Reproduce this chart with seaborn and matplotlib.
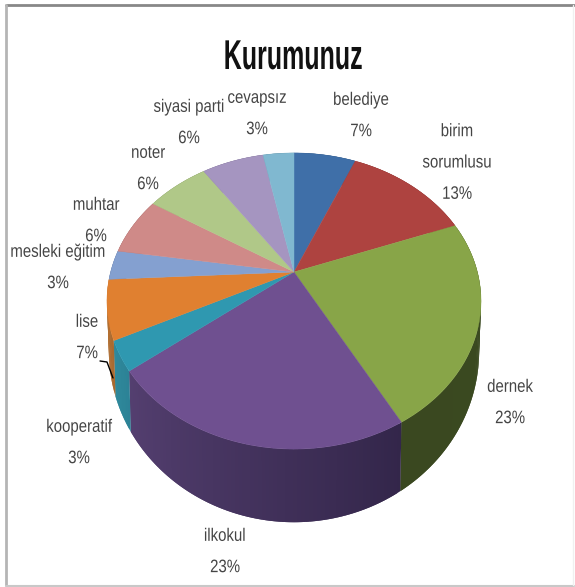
import numpy as np
import matplotlib
matplotlib.use("Agg")
import matplotlib.pyplot as plt
from matplotlib.path import Path
from matplotlib.patheffects import AbstractPathEffect
from matplotlib.transforms import Transform, Affine2D
from matplotlib.colors import to_rgb
import seaborn as sns

# ---- data ----
categories = ["belediye", "birim\nsorumlusu", "dernek", "ilkokul", "kooperatif", "lise",
              "mesleki eğitim", "muhtar", "noter", "siyasi parti", "cevapsız"]
counts = [2, 4, 7, 7, 1, 2, 1, 2, 2, 2, 1]
pct_labels = ["7%", "13%", "23%", "23%", "3%", "7%", "3%", "6%", "6%", "6%", "3%"]
title = "Kurumunuz"

# ---- styles ----
face_colors = ["#3f6fa8", "#ae4340", "#88a548", "#6f5090", "#2f98b0", "#e08030",
               "#84a0d0", "#cf8a88", "#b0c888", "#a595c0", "#80b8d0"]
side_right = ["#2a4a70", "#742d2b", "#3a4a20", "#33264a", "#2c8296", "#a86a30",
              "#586b8b", "#8a5c5b", "#76855b", "#6e6380", "#557b8b"]
side_left = ["#2a4a70", "#742d2b", "#3a4820", "#543f70", "#2f8a9c", "#b87030",
             "#586b8b", "#8a5c5b", "#76855b", "#6e6380", "#557b8b"]
label_xy = [(361, 116), (457, 163), (510, 403), (225, 552), (79, 443), (87, 338),
            (58, 268), (96, 221), (148, 169), (189, 123), (257, 114)]

W, H = 575, 587
CX, CY, A, B, K = 294.0, 272.0, 183.4, 142.4, 0.196


def project(u, v):
    d = 1 + K * v
    return CX + A * u / d, CY - B * v / d


def drop(x, y):
    return CX + (x - CX) * 0.99, 1.157 * y + 2.6


class Perspective(Transform):
    input_dims = output_dims = 2
    is_separable = False
    has_inverse = False

    def transform_non_affine(self, values):
        values = np.asarray(values, float)
        x, y = project(values[:, 0], values[:, 1])
        return np.column_stack([x, y])

    def transform_path_non_affine(self, path):
        polys = path.transformed(Affine2D().scale(600)).to_polygons(closed_only=False)
        return Path(self.transform_non_affine(polys[0] / 600))


class Squeeze(AbstractPathEffect):
    """Draw each text line narrower, about its own middle (condensed look)."""

    def __init__(self, sx):
        super().__init__()
        self.sx = sx

    def draw_path(self, renderer, gc, tpath, affine, rgbFace=None):
        ext = tpath.get_extents()
        mid = 0.5 * (ext.x0 + ext.x1)
        squeeze = Affine2D().translate(-mid, 0).scale(self.sx, 1).translate(mid, 0)
        renderer.draw_path(gc, tpath, squeeze + affine, rgbFace)


sns.set_theme(style="white")
plt.rcParams["font.family"] = ["Liberation Sans", "DejaVu Sans"]

fig = plt.figure(figsize=(W / 100, H / 100), dpi=100, facecolor="white")
ax = fig.add_axes([0, 0, 1, 1])

palette = sns.color_palette(face_colors)
wedges, _ = ax.pie(counts, colors=palette, startangle=90, counterclock=False,
                   wedgeprops=dict(linewidth=0.3))
proj = Perspective()
for w, c in zip(wedges, palette):
    w.set_transform(proj + ax.transData)
    w.set_edgecolor(c)
    w.set_zorder(3)

ax.set_aspect("auto")
ax.set_xlim(0, W)
ax.set_ylim(H, 0)
ax.set_axis_off()

# side wall, from the same cumulative values as the pie
cum = np.concatenate([[0], np.cumsum(counts)]) / np.sum(counts) * 360.0
for i in range(len(counts)):
    n = max(2, int(cum[i + 1] - cum[i]))
    ang = np.radians(90 - np.linspace(cum[i], cum[i + 1], n + 1))
    px, py = project(np.cos(ang), np.sin(ang))
    qx, qy = drop(px, py)
    c0, c1 = np.array(to_rgb(side_right[i])), np.array(to_rgb(side_left[i]))
    for j in range(n):
        c = c0 + (c1 - c0) * (j + 0.5) / n
        e = min(j + 2, n)  # overlap the next strip, so no seams show
        ax.fill([px[j], px[j + 1], px[e], qx[e], qx[j + 1], qx[j]],
                [py[j], py[j + 1], py[e], qy[e], qy[j + 1], qy[j]],
                facecolor=c, edgecolor="none", linewidth=0, zorder=1)

# labels
for name, pct, (x, y) in zip(categories, pct_labels, label_xy):
    ax.text(x, y, f"{name}\n{pct}", ha="center", va="center", fontsize=13,
            color="#454545", linespacing=2.1, zorder=5,
            path_effects=[Squeeze(0.83)])

ax.text(293, 58, title, ha="center", va="center", fontsize=30, fontweight="bold",
        color="#111111", zorder=5, path_effects=[Squeeze(0.6)])

# leader line of "lise"
ax.plot([100, 107, 113], [361, 362, 378], color="black", lw=1, zorder=4)

# picture frame
ax.plot([6, 574], [5, 5], color="#888888", lw=2, zorder=6)
ax.plot([6, 6], [5, 585], color="#b5b5b5", lw=2, zorder=6)
ax.plot([6, 574], [585.5, 585.5], color="#c8c8c8", lw=1.5, zorder=6)
ax.plot([573, 573], [5, 585], color="#f0f0f0", lw=1, zorder=6)

fig.savefig("out.png", dpi=100, facecolor="white")
